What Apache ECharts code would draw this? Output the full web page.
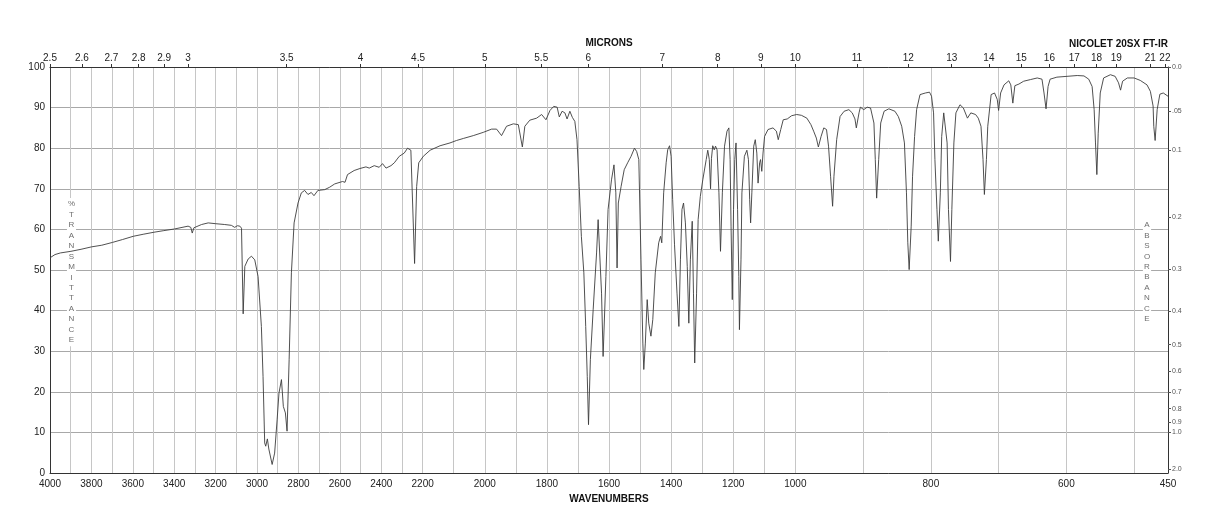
<!DOCTYPE html>
<html>
<head>
<meta charset="utf-8">
<script src="https://cdn.jsdelivr.net/npm/echarts@6/dist/echarts.min.js"></script>
<style>
html, body { margin: 0; padding: 0; background: #fff; }
#chart { width: 1218px; height: 528px; }
</style>
</head>
<body>
<div id="chart"></div>
<script>
// spectrum (cm-1 / %T)
var wavenumbers = [
	4000, 3976, 3950, 3899, 3850, 3799, 3750, 3698, 3650, 3598, 3550, 3498, 3450, 3399, 3333, 3320, 3313, 3305, 3300, 3268,
	3236, 3199, 3156, 3124, 3108, 3095, 3083, 3075, 3067, 3059, 3043, 3027, 3011, 2995, 2979, 2971, 2963, 2958, 2950, 2943,
	2927, 2915, 2903, 2894, 2882, 2873, 2863, 2855, 2845, 2834, 2821, 2802, 2786, 2770, 2754, 2738, 2725, 2706, 2673, 2649,
	2625, 2619, 2587, 2575, 2563, 2531, 2503, 2474, 2458, 2434, 2410, 2394, 2377, 2353, 2337, 2313, 2289, 2273, 2257, 2248,
	2239, 2229, 2219, 2198, 2176, 2144, 2112, 2091, 2069, 2037, 2005, 1978, 1962, 1946, 1930, 1908, 1892, 1879, 1871, 1855,
	1833, 1817, 1803, 1790, 1778, 1767, 1760, 1751, 1742, 1735, 1726, 1718, 1710, 1703, 1696, 1689, 1681, 1675, 1670, 1666,
	1660, 1651, 1640, 1635, 1630, 1624, 1619, 1610, 1603, 1592, 1584, 1578, 1574, 1570, 1561, 1551, 1540, 1529, 1518, 1511,
	1504, 1497, 1491, 1488, 1483, 1477, 1472, 1465, 1459, 1451, 1440, 1434, 1430, 1424, 1416, 1411, 1405, 1400, 1395, 1389,
	1386, 1381, 1375, 1370, 1365, 1360, 1354, 1348, 1343, 1338, 1332, 1328, 1324, 1318, 1313, 1306, 1298, 1287, 1282, 1277,
	1273, 1270, 1266, 1261, 1257, 1252, 1246, 1241, 1235, 1228, 1220, 1214, 1210, 1207, 1203, 1199, 1195, 1191, 1186, 1182,
	1180, 1175, 1172, 1164, 1156, 1151, 1147, 1144, 1140, 1134, 1129, 1124, 1120, 1115, 1112, 1108, 1104, 1099, 1088, 1072,
	1061, 1055, 1047, 1039, 1033, 1026, 1012, 998, 991, 983, 977, 973, 969, 966, 962, 958, 954, 951, 948, 945,
	943, 939, 934, 928, 921, 916, 912, 910, 906, 904, 899, 894, 889, 884, 882, 880, 877, 874, 869, 862,
	853, 848, 843, 839, 836, 834, 832, 829, 827, 824, 821, 816, 808, 802, 799, 796, 794, 791, 789, 786,
	784, 781, 779, 776, 774, 771, 769, 766, 763, 757, 752, 746, 741, 734, 730, 726, 723, 721, 718, 716,
	711, 706, 702, 700, 697, 692, 685, 682, 679, 676, 670, 663, 653, 643, 636, 633, 630, 627, 624, 614,
	599, 584, 574, 567, 562, 559, 557, 555, 553, 550, 545, 535, 528, 523, 520, 517, 510, 500, 491, 481,
	476, 472, 471, 469, 466, 462, 457, 450
];
var transmittance = [
	53.0, 53.8, 54.2, 54.6, 55.1, 55.7, 56.1, 56.8, 57.5, 58.3, 58.8, 59.3, 59.7, 60.1, 60.8, 60.5, 59.1, 60.4, 60.8, 61.2,
	61.6, 61.4, 61.2, 61.0, 60.5, 60.9, 60.8, 60.3, 39.2, 50.9, 52.7, 53.4, 52.5, 48.4, 36.1, 23.8, 7.4, 6.6, 8.4, 5.9,
	2.1, 4.9, 13.1, 19.7, 23.0, 16.4, 14.8, 10.3, 27.9, 49.3, 61.6, 66.5, 69.0, 69.6, 68.6, 69.1, 68.3, 69.6, 69.8, 70.4,
	71.2, 71.3, 71.8, 71.6, 73.5, 74.5, 75.0, 75.4, 75.1, 75.7, 75.3, 76.2, 75.1, 75.7, 76.4, 78.0, 78.8, 80.0, 79.5, 79.6,
	51.6, 70.6, 76.4, 78.0, 79.5, 80.6, 81.3, 81.9, 82.4, 83.1, 83.9, 84.7, 84.7, 83.1, 85.4, 86.0, 85.8, 80.3, 85.4, 86.9,
	87.4, 88.3, 87.0, 89.3, 90.3, 90.1, 87.7, 89.1, 88.7, 87.2, 89.1, 87.6, 86.6, 82.1, 70.6, 58.3, 49.3, 36.1, 23.8, 11.9,
	27.9, 40.2, 54.2, 62.4, 62.4, 44.3, 28.7, 48.4, 64.9, 72.2, 75.9, 69.0, 50.5, 66.5, 70.6, 74.7, 76.4, 78.0, 80.0, 79.2,
	77.2, 52.5, 32.0, 25.5, 32.0, 42.7, 36.9, 33.7, 37.8, 49.3, 56.7, 58.3, 56.7, 69.0, 76.4, 79.6, 80.6, 78.0, 67.3, 56.2,
	56.2, 44.3, 36.1, 52.5, 64.9, 66.5, 61.6, 50.9, 36.9, 52.5, 62.0, 44.3, 27.1, 44.3, 62.4, 68.1, 72.2, 77.2, 79.5, 77.2,
	70.0, 77.5, 80.6, 79.6, 80.5, 79.6, 69.0, 54.6, 69.0, 80.5, 84.2, 85.0, 77.2, 60.8, 42.7, 64.9, 77.2, 81.3, 64.9, 48.4,
	35.3, 52.5, 69.0, 78.0, 79.5, 77.2, 67.3, 61.6, 69.0, 80.5, 82.1, 78.8, 71.4, 76.4, 77.2, 74.3, 78.8, 82.9, 84.6, 85.0,
	84.2, 82.1, 84.6, 87.0, 86.6, 87.2, 88.0, 88.3, 88.1, 87.4, 85.8, 84.2, 82.5, 80.3, 82.9, 85.0, 84.6, 80.5, 73.1, 65.7,
	73.1, 82.1, 87.8, 89.1, 89.5, 88.7, 87.2, 85.0, 88.7, 90.1, 89.5, 90.1, 89.9, 86.2, 77.2, 67.7, 77.2, 86.2, 89.1, 89.7,
	89.1, 87.8, 85.4, 81.3, 69.0, 56.7, 50.1, 60.8, 73.1, 82.9, 89.5, 93.2, 93.6, 93.8, 92.8, 88.7, 77.2, 64.9, 57.1, 69.0,
	82.9, 88.7, 89.1, 81.3, 64.9, 52.1, 64.9, 81.3, 88.7, 90.7, 89.9, 87.4, 88.7, 88.3, 87.4, 85.4, 77.2, 68.6, 77.2, 85.4,
	93.2, 93.6, 92.0, 89.3, 93.6, 95.6, 96.6, 95.6, 91.1, 95.4, 95.8, 96.5, 96.9, 97.3, 97.0, 93.6, 89.7, 95.2, 97.0, 97.5,
	97.7, 97.9, 97.8, 97.0, 95.2, 89.5, 81.3, 73.5, 83.7, 93.6, 97.3, 98.1, 97.7, 96.1, 94.3, 96.5, 97.3, 97.3, 96.7, 95.6,
	94.0, 90.4, 85.4, 81.9, 89.5, 93.3, 93.6, 92.8
];

// axis labels
var wavenumberLabels = [4000, 3800, 3600, 3400, 3200, 3000, 2800, 2600, 2400, 2200, 2000, 1800, 1600, 1400, 1200, 1000, 800, 600, 450];
var micronLabels = [2.5, 2.6, 2.7, 2.8, 2.9, 3, 3.5, 4, 4.5, 5, 5.5, 6, 7, 8, 9, 10, 11, 12, 13, 14, 15, 16, 17, 18, 19, 21, 22];
var absorbanceValues = [0, 0.05, 0.1, 0.2, 0.3, 0.4, 0.5, 0.6, 0.7, 0.8, 0.9, 1.0, 2.0];
var absorbanceLabels = ['0.0', '.05', '0.1', '0.2', '0.3', '0.4', '0.5', '0.6', '0.7', '0.8', '0.9', '1.0', '2.0'];

var FONT = '"Liberation Sans", Arial, Helvetica, sans-serif';

// the x axis is split into three linear parts of equal width:
// 4000-2200, 2200-1000 and 1000-450 cm-1
function toPos(w) {
	if (w >= 2200) return (4000 - w) / 1800;
	if (w >= 1000) return 1 + (2200 - w) / 1200;
	return 2 + (1000 - w) / 550;
}

function fromPos(u) {
	if (u <= 1) return 4000 - u * 1800;
	if (u <= 2) return 2200 - (u - 1) * 1200;
	return 1000 - (u - 2) * 550;
}

function absToT(a) {
	return 100 * Math.pow(10, -a);
}

var gridPos = [];
for (var w = 4000; w >= 500; w -= 100) {
	gridPos.push(toPos(w));
}
gridPos.push(3);

var wavenumberPos = wavenumberLabels.map(toPos);
var micronPos = micronLabels.map(function (m) { return toPos(10000 / m); });
var absorbancePos = absorbanceValues.map(absToT);

var seriesData = wavenumbers.map(function (w, i) {
	return [toPos(w), transmittance[i]];
});

function verticalText(pText) {
	return pText.split('').join('\n');
}

var chart = echarts.init(document.getElementById('chart'), null, { renderer: 'canvas' });

var option = {
	animation: false,
	backgroundColor: '#fff',
	textStyle: { fontFamily: FONT },
	grid: { left: 50, right: 50, top: 67, bottom: 55, containLabel: false },
	xAxis: [
		{
			type: 'value', position: 'bottom', min: 0, max: 3,
			axisLine: { show: true, onZero: false, lineStyle: { color: '#333', width: 1 } },
			axisTick: { show: false, customValues: gridPos },
			splitLine: { show: true, lineStyle: { color: '#c6c6c6', width: 1 } },
			axisLabel: {
				customValues: wavenumberPos, fontSize: 10, color: '#222', margin: 6, fontFamily: FONT,
				formatter: function (v) { return String(Math.round(fromPos(v))); }
			},
			name: 'WAVENUMBERS', nameLocation: 'middle', nameGap: 20,
			nameTextStyle: { fontWeight: 'bold', fontSize: 10, color: '#111', fontFamily: FONT }
		},
		{
			type: 'value', position: 'top', min: 0, max: 3,
			axisLine: { show: true, onZero: false, lineStyle: { color: '#333', width: 1 } },
			axisTick: { show: true, customValues: micronPos, length: 3, lineStyle: { color: '#333' } },
			splitLine: { show: false },
			axisLabel: {
				customValues: micronPos, fontSize: 10, color: '#222', margin: 4, fontFamily: FONT,
				formatter: function (v) {
					var m = Math.round(10000 / fromPos(v) * 10) / 10;
					return String(m);
				}
			},
			name: 'MICRONS', nameLocation: 'middle', nameGap: 18,
			nameTextStyle: { fontWeight: 'bold', fontSize: 10, color: '#111', fontFamily: FONT }
		}
	],
	yAxis: [
		{
			type: 'value', position: 'left', min: 0, max: 100, interval: 10,
			axisLine: { show: true, onZero: false, lineStyle: { color: '#333', width: 1 } },
			axisTick: { show: false },
			splitLine: { show: true, lineStyle: { color: '#a8a8a8', width: 1 } },
			axisLabel: { fontSize: 10, color: '#222', margin: 5, fontFamily: FONT }
		},
		{
			type: 'value', position: 'right', min: 0, max: 100,
			axisLine: { show: true, onZero: false, lineStyle: { color: '#333', width: 1 } },
			axisTick: { show: true, customValues: absorbancePos, length: 3, lineStyle: { color: '#555' } },
			splitLine: { show: false },
			axisLabel: {
				customValues: absorbancePos, fontSize: 7, color: '#555', margin: 4, fontFamily: FONT,
				formatter: function (v) {
					for (var i = 0; i < absorbancePos.length; i++) {
						if (Math.abs(absorbancePos[i] - v) < 1e-6) return absorbanceLabels[i];
					}
					return '';
				}
			}
		}
	],
	graphic: [
		{
			type: 'text', left: 1069, top: 39, z: 5,
			style: { text: 'NICOLET 20SX FT-IR', font: 'bold 10px ' + FONT, fill: '#111' }
		},
		{
			type: 'text', x: 71.5, y: 198, z: 1,
			style: {
				text: verticalText('%TRANSMITTANCE'), font: '8px ' + FONT, fill: '#6e6e6e',
				align: 'center', lineHeight: 10.45, backgroundColor: '#fff', padding: [1, 1]
			}
		},
		{
			type: 'text', x: 1147, y: 219, z: 1,
			style: {
				text: verticalText('ABSORBANCE'), font: '8px ' + FONT, fill: '#6e6e6e',
				align: 'center', lineHeight: 10.4, backgroundColor: '#fff', padding: [1, 1]
			}
		}
	],
	series: [
		{
			type: 'line', xAxisIndex: 0, yAxisIndex: 0, z: 3,
			data: seriesData, showSymbol: false, smooth: false,
			lineStyle: { color: '#3c3c3c', width: 0.9 }
		}
	]
};

chart.setOption(option);
</script>
</body>
</html>
